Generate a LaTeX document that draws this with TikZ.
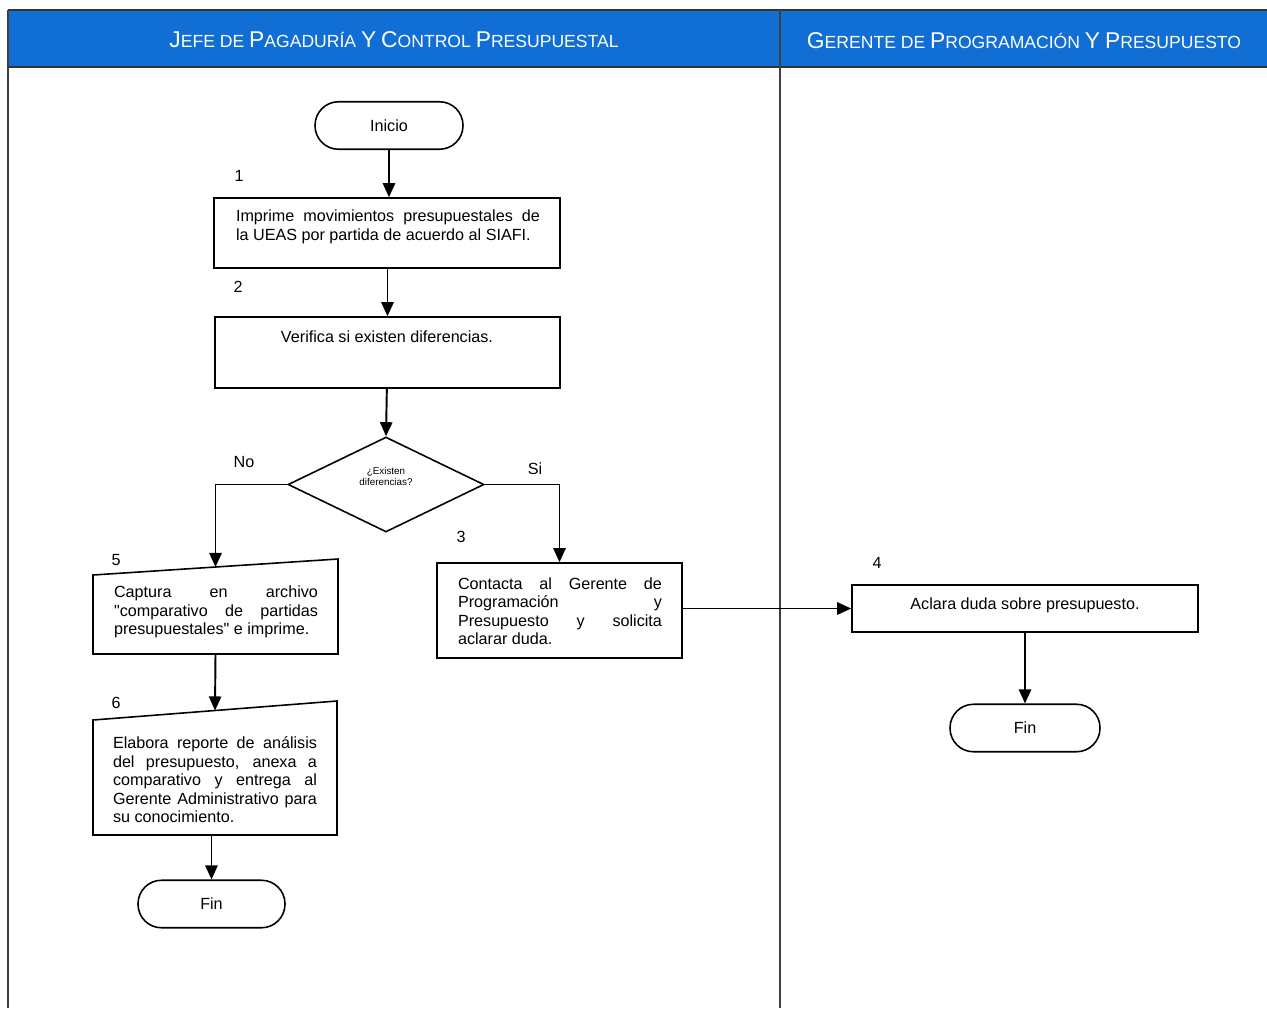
\documentclass[tikz,border=0pt]{standalone}
\usepackage{fontspec}
\setmainfont{Liberation Sans}
\usetikzlibrary{shapes.geometric,arrows.meta,calc}
\definecolor{laneblue}{RGB}{16,110,212}
\newcommand\Bc[1]{{\fontsize{13}{14}\selectfont #1}}
\hyphenpenalty=10000
\exhyphenpenalty=10000
\begin{document}
\begin{tikzpicture}[x=0.02cm,y=-0.02cm,
  txt/.style={font=\fontsize{9.2}{10.5}\selectfont},
  stepbox/.style={draw,line width=0.9pt,inner sep=0pt},
  term/.style={draw,line width=0.9pt,rounded corners=0.47cm,minimum width=2.96cm,minimum height=0.95cm,txt},
  para/.style={txt,text width=#1,align=justify,inner sep=0pt},
  num/.style={txt,inner sep=0pt},
  arr/.style={line width=1.1pt,-{Triangle[length=8pt,width=7pt]}},
  hdr/.style={text=white,font=\fontsize{10}{11}\selectfont}]
\useasboundingbox (0,0) rectangle (1267,1008);

% lane header and frame
\fill[laneblue] (8,10) rectangle (1267,67);
\draw[line width=0.9pt,black!80] (8,10) -- (1267,10);
\draw[line width=0.9pt,black!80] (8,67) -- (1267,67);
\draw[line width=0.8pt,black!75] (8,10) -- (8,1008);
\draw[line width=0.8pt,black!75] (780,10) -- (780,1008);
\node[hdr] (h1) at (394,40) {\Bc{J}EFE DE \Bc{P}AGADURÍA \Bc{Y} \Bc{C}ONTROL \Bc{P}RESUPUESTAL};
\node[hdr] (h2) at (1024,41) {\Bc{G}ERENTE DE \Bc{P}ROGRAMACIÓN \Bc{Y} \Bc{P}RESUPUESTO};

% left lane
\node[term] (ini) at (389,125.5) {Inicio};
\node[num] (n1) at (239,176) {1};
\node[stepbox,minimum width=6.92cm,minimum height=1.4cm] (b1) at (387,233) {};
\node[para=6.08cm] (t1) at (388,227) {Imprime movimientos presupuestales de\linebreak la UEAS por partida de acuerdo al SIAFI.};
\node[num] (n2) at (238,287) {2};
\node[stepbox,minimum width=6.9cm,minimum height=1.42cm] (b2) at (387.5,352.5) {};
\node[txt,inner sep=0pt] (t2) at (387,337) {Verifica si existen diferencias.};

\node[draw,line width=0.9pt,diamond,aspect=2,inner sep=0pt,minimum width=3.92cm,minimum height=1.9cm,
  font=\fontsize{5.6}{6.4}\selectfont,align=center] (d) at (386,484.5) {¿Existen\\diferencias?\\[3pt]};
\node[num] (no) at (244,462) {No};
\node[num] (si) at (535,469) {Si};

% step 5 (slanted top)
\coordinate (p5a) at (93,575);
\coordinate (p5b) at (338,559);
\coordinate (p5c) at (338,654);
\coordinate (p5d) at (93,654);
\draw[line width=0.9pt] (p5a) -- (p5b) -- (p5c) -- (p5d) -- cycle;
\coordinate (top5) at ($(p5a)!0.5!(p5b)$);
\coordinate (bot5) at ($(p5d)!0.5!(p5c)$);
\node[num] (n5) at (116,560) {5};
\node[para=4.08cm] (t5) at (216,612) {Captura en archivo\linebreak \textquotedbl comparativo de partidas\linebreak presupuestales\textquotedbl{} e imprime.};

% step 6 (slanted top)
\coordinate (p6a) at (93,720);
\coordinate (p6b) at (337,701);
\coordinate (p6c) at (337,835);
\coordinate (p6d) at (93,835);
\draw[line width=0.9pt] (p6a) -- (p6b) -- (p6c) -- (p6d) -- cycle;
\coordinate (top6) at ($(p6a)!0.5!(p6b)$);
\coordinate (bot6) at ($(p6d)!0.5!(p6c)$);
\node[num] (n6) at (116,703) {6};
\node[para=4.08cm] (t6) at (215,780) {Elabora reporte de análisis\linebreak del presupuesto, anexa a\linebreak comparativo y entrega al\linebreak Gerente Administrativo para\linebreak su conocimiento.};

\node[term,minimum width=2.94cm] (fin1) at (211.5,904) {Fin};

% step 3
\node[num] (n3) at (461,537) {3};
\node[stepbox,minimum width=4.9cm,minimum height=1.9cm] (b3) at (559.5,610.5) {};
\node[para=4.08cm] (t3) at (560,611) {Contacta al Gerente de\linebreak Programación y\linebreak Presupuesto y solicita\linebreak aclarar duda.};

% right lane
\node[num] (n4) at (877,563) {4};
\node[stepbox,minimum width=6.92cm,minimum height=0.94cm] (b4) at (1025,608.5) {};
\node[txt,inner sep=0pt] (t4) at (1025,605) {Aclara duda sobre presupuesto.};
\node[term,minimum width=3cm] (fin2) at (1025,728) {Fin};

% connectors
\draw[arr] (ini) -- (ini |- b1.north);
\draw[arr] (b1.south -| b2) -- (b2);
\draw[arr] (b2) -- (d.north);
\draw[arr] (d.west) -| (top5);
\draw[arr] (d.east) -| (b3.north);
\draw[arr] (bot5) -- (top6);
\draw[arr] (fin1 |- bot6) -- (fin1.north);
\draw[arr] (b3.east |- b4.west) -- (b4.west);
\draw[arr] (b4) -- (fin2);
\end{tikzpicture}
\end{document}
